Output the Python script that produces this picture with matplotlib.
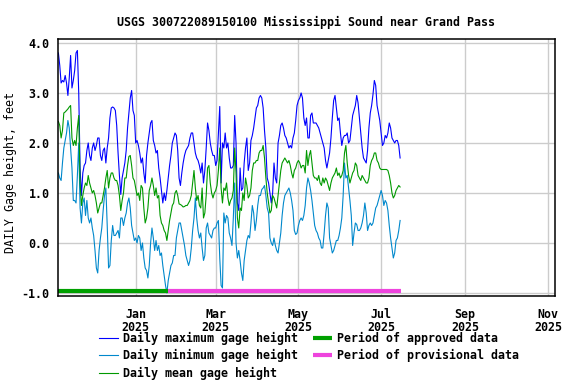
import datetime as dt
import numpy as np
import pandas as pd
import matplotlib
matplotlib.use("Agg")
import matplotlib.pyplot as plt

# daily values, Nov 5 2024 .. Jul 15 2025
gage_max = [
    3.8, 3.55, 3.2, 3.25, 3.22, 3.35, 3.2, 2.95, 3.3, 3.75, 3.1, 3.25, 3.45, 3.8, 3.85, 3.0, 1.5, 0.95, 1.4, 1.55,
    1.6, 1.85, 2.0, 1.75, 1.65, 1.9, 2.0, 1.85, 1.95, 2.1, 2.1, 1.75, 1.65, 1.85, 1.9, 1.6, 1.9, 2.1, 2.5, 2.7,
    2.72, 2.7, 2.65,
    2.35, 1.8, 1.35, 0.97, 1.3, 1.45, 1.6, 1.85, 2.3, 2.6, 2.9, 3.05, 2.65, 2.55, 2.0, 2.05, 1.95, 1.8, 1.6, 1.7,
    1.4, 1.2, 1.75, 2.0, 2.2, 2.4, 2.45, 2.05, 1.95, 1.8, 1.85, 1.5, 1.3, 1.05, 0.8, 1.0, 0.85, 1.05, 1.3, 1.55,
    1.75, 2.0, 2.1,
    2.2, 2.15, 1.85, 1.3, 1.15, 1.4, 1.6, 1.75, 1.85, 1.9, 1.95, 2.1, 2.2, 2.2, 2.0, 1.8, 1.7, 1.65, 1.55, 1.4,
    1.6, 1.2, 1.45, 1.9, 2.4, 2.25, 2.0, 1.85, 1.75, 1.75, 1.55, 1.65, 2.2, 2.73, 1.2, 2.0, 1.9, 2.2, 1.9, 2.0,
    1.7, 1.5, 1.5,
    1.55, 2.55, 2.0, 0.8, 0.65, 1.5, 1.05, 1.1, 1.6, 1.9, 2.1, 1.45, 1.6, 2.05, 2.15, 2.3, 2.5, 2.7, 2.75, 2.9,
    2.95, 2.9, 2.7, 2.25, 1.9, 1.3, 1.2, 1.0, 0.8, 1.0, 1.6, 1.3, 1.2, 2.0, 2.15, 2.35, 2.4, 2.3, 2.15, 2.1,
    2.0, 1.9,
    1.95, 1.9, 2.1, 2.2, 2.45, 2.75, 2.85, 2.9, 3.0, 2.9, 2.5, 2.35, 2.5, 2.1, 2.1, 2.55, 2.6, 2.4, 2.4, 2.4,
    2.35, 2.3, 2.2, 2.1, 2.0, 1.9, 1.65, 1.5, 1.65, 1.8, 2.1, 2.5, 2.85, 2.95, 2.7, 2.45, 2.5, 2.2, 1.95, 2.1,
    2.15, 2.15, 2.2,
    2.0, 2.05, 2.3, 2.55, 2.65, 2.75, 2.95, 2.8, 2.5, 2.2, 1.9, 1.7, 1.65, 1.6, 1.85, 2.3, 2.6, 2.75, 2.97, 3.25,
    3.15, 2.75, 2.6, 2.45, 2.2, 1.95, 2.0, 2.15, 2.1, 2.2, 2.4, 2.3, 2.1, 2.05, 2.0, 2.05, 2.05, 1.95, 1.7,
]
gage_min = [
    1.4, 1.3, 1.25, 1.6, 1.9, 2.05, 2.2, 2.45, 2.3, 1.9, 1.5, 0.85, 0.85, 0.8, 1.35, 2.0, 0.7, 0.4, 0.8, 0.9,
    0.55, 0.85, 0.5, 0.4, 0.5, 0.3, 0.15, -0.15, -0.5, -0.6, -0.15, 0.1, 0.3, 0.65, 0.95, 1.1, 0.35, -0.5, -0.45, 0.05,
    0.35, 0.15, 0.15,
    0.2, 0.25, 0.1, 0.5, 0.5, 0.35, 0.5, 0.6, 0.8, 0.9, 0.7, 0.35, 0.2, 0.05, 0.1, 0.0, 0.15, 0.1, -0.15, 0.0,
    -0.3, -0.5, -0.55, -0.7, -0.45, 0.0, 0.3, 0.1, -0.15, 0.05, -0.15, -0.05, -0.25, -0.2, -0.45, -0.65, -0.85, -1.0, -0.75, -0.6,
    -0.45, -0.4, -0.25,
    -0.25, 0.1, 0.25, 0.4, 0.4, 0.25, 0.1, -0.05, -0.25, -0.35, -0.45, -0.35, -0.1, 0.25, 0.5, 0.9, 0.5, 0.25, 0.1, 0.2,
    -0.1, -0.35, -0.25, 0.3, 0.4, 0.2, 0.15, 0.1, 0.25, 0.3, 0.3, 0.4, 0.45, -0.3, -0.85, -0.9, 0.6, 0.4, 0.55, 0.5,
    0.2, 0.1, -0.05,
    0.5, 1.2, 0.0, -0.3, -0.15, -0.35, -0.6, -0.75, -0.35, -0.15, 0.05, 0.15, 0.1, 0.4, 0.75, 0.6, 0.25, 0.45, 0.75, 0.95,
    0.95, 1.07, 1.1, 1.15, 0.95, 0.7, 0.6, 0.1, 0.0, -0.05, 0.1, -0.05, -0.15, -0.2, 0.0, 0.2, 0.55, 0.8, 0.95, 1.0,
    1.05, 1.1,
    1.0, 0.85, 0.65, 0.25, 0.17, 0.2, 0.35, 0.45, 0.5, 0.45, 0.55, 0.75, 1.1, 1.3, 1.2, 1.05, 0.85, 0.6, 0.35, 0.25,
    0.2, 0.1, 0.05, -0.1, -0.1, 0.2, 0.55, 0.8, 0.7, 0.1, -0.05, -0.2, -0.15, -0.05, 0.05, 0.05, 0.15, 0.3, 0.5, 0.95,
    1.6, 1.3, 1.35,
    1.1, 0.85, 0.55, -0.05, 0.2, 0.4, 0.37, 0.25, 0.25, 0.3, 0.4, 0.55, 0.8, 0.6, 0.25, 0.35, 0.4, 0.35, 0.4, 0.55,
    0.7, 0.75, 0.85, 0.95, 1.05, 0.95, 0.75, 0.85, 0.8, 0.65, 0.35, 0.1, -0.1, -0.3, -0.2, 0.05, 0.1, 0.25, 0.45,
]
gage_mean = [
    2.43, 2.35, 2.1, 2.25, 2.6, 2.62, 2.65, 2.68, 2.72, 2.75, 2.1, 1.95, 2.05, 1.95, 2.3, 2.55, 1.2, 0.75, 0.95, 1.1,
    1.2, 1.15, 1.35, 1.2, 1.1, 1.0, 1.05, 0.95, 0.8, 0.6, 0.7, 0.8, 0.8, 0.95, 1.1, 1.3, 1.45, 1.1, 1.3, 1.4,
    1.4, 1.3, 1.25,
    1.25, 1.15, 0.95, 0.65, 0.85, 1.0, 1.3, 1.3, 1.55, 1.73, 1.75, 1.55, 1.3, 1.25, 1.1, 0.95, 1.0, 0.85, 1.15, 1.1,
    0.7, 0.4, 0.5, 0.7, 1.05, 1.15, 1.3, 1.15, 0.95, 1.1, 0.9, 0.95, 0.55, 0.4, 0.35, 0.25, 0.2, 0.05, 0.25, 0.45,
    0.6, 0.75, 0.8,
    1.0, 1.05, 0.95, 0.78, 0.77, 0.75, 0.72, 0.73, 0.75, 0.75, 0.8, 0.85, 0.95, 1.2, 1.45, 1.1, 0.85, 0.95, 0.75, 0.7,
    1.1, 0.5, 0.6, 0.95, 1.5, 1.55, 1.2, 1.0, 0.9, 1.0, 1.05, 1.15, 1.45, 1.9, 1.1, 0.8, 1.1, 1.05, 1.2, 0.9,
    0.75, 0.85, 0.9,
    1.05, 1.9, 1.4, 0.5, 0.3, 0.7, 0.65, 1.0, 0.85, 1.3, 1.15, 0.9, 0.95, 1.1, 1.45, 1.6, 1.6, 1.65, 1.65, 1.8,
    1.85, 1.85, 1.95, 1.7, 1.3, 1.0, 0.8, 0.6, 0.65, 0.95, 0.9, 0.8, 0.7, 0.95, 1.2, 1.45, 1.6, 1.65, 1.7, 1.65,
    1.6, 1.65,
    1.55, 1.4, 1.3, 1.45, 1.5, 1.6, 1.65, 1.6, 1.5, 1.55, 1.55, 1.4, 1.85, 1.55, 1.75, 1.85, 1.6, 1.35, 1.3, 1.3,
    1.25, 1.35, 1.2, 1.15, 1.3, 1.2, 1.3, 1.25, 1.15, 1.05, 1.2, 1.3, 1.35, 1.4, 1.5, 1.35, 1.4, 1.3, 1.35, 1.45,
    1.8, 1.95, 1.6,
    1.35, 1.2, 1.3, 1.4, 1.45, 1.6, 1.55, 1.35, 1.3, 1.25, 1.35, 1.3, 1.25, 1.2, 1.2, 1.3, 1.55, 1.65, 1.7, 1.8,
    1.8, 1.65, 1.6, 1.5, 1.47, 1.47, 1.47, 1.47, 1.47, 1.45, 1.35, 1.2, 1.0, 0.9, 0.95, 1.05, 1.1, 1.15, 1.12,
]

dates = pd.date_range("2024-11-05", periods=len(gage_max), freq="D")
approved = (dt.datetime(2024, 11, 4, 17), dt.datetime(2025, 1, 25))
provisional = (dt.datetime(2025, 1, 25), dt.datetime(2025, 7, 16))

tick_dates = [dt.datetime(2025, m, 1) for m in (1, 3, 5, 7, 9, 11)]
tick_labels = ["Jan\n2025", "Mar\n2025", "May\n2025", "Jul\n2025", "Sep\n2025", "Nov\n2025"]
y_ticks = [-1.0, 0.0, 1.0, 2.0, 3.0, 4.0]

plt.rcParams["font.family"] = "DejaVu Sans Mono"
plt.rcParams["font.weight"] = "bold"
plt.rcParams["font.size"] = 8.4

fig = plt.figure(figsize=(5.76, 3.84), dpi=100)
ax = fig.add_axes([0.1007, 0.2292, 0.862, 0.668])

ax.plot(dates, gage_max, color="#0000ff", lw=0.8, label="Daily maximum gage height")
ax.plot(dates, gage_min, color="#0088cc", lw=0.8, label="Daily minimum gage height")
ax.plot(dates, gage_mean, color="#009900", lw=0.8, label="Daily mean gage height")
ax.plot(approved, [-0.97, -0.97], color="#00a000", lw=3, solid_capstyle="butt",
        label="Period of approved data")
ax.plot(provisional, [-0.97, -0.97], color="#ee44dd", lw=3, solid_capstyle="butt",
        label="Period of provisional data")

ax.set_xlim(dt.datetime(2024, 11, 4, 17), dt.datetime(2025, 11, 5, 21))
ax.set_ylim(-1.06, 4.07)
ax.set_xticks(tick_dates)
ax.set_xticklabels(tick_labels, linespacing=1.0)
ax.set_yticks(y_ticks)
ax.set_yticklabels(["%.1f" % v for v in y_ticks])
ax.tick_params(length=0, pad=6)
ax.tick_params(axis="x", pad=9)
ax.grid(True, color="#cccccc", lw=1.0)
ax.set_axisbelow(True)
for s in ax.spines.values():
    s.set_linewidth(1.1)

ax.set_ylabel("DAILY Gage height, feet")
ax.yaxis.set_label_coords(-0.083, 0.48)
ax.set_title("USGS 300722089150100 Mississippi Sound near Grand Pass",
             fontsize=8.4, fontweight="bold", pad=10)

fig.legend(loc="upper left", bbox_to_anchor=(0.172, 0.135), ncol=2, frameon=False,
           handlelength=1.6, handletextpad=0.45, columnspacing=1.3,
           labelspacing=0.35, borderpad=0, borderaxespad=0)

fig.savefig("out.png", dpi=100)
